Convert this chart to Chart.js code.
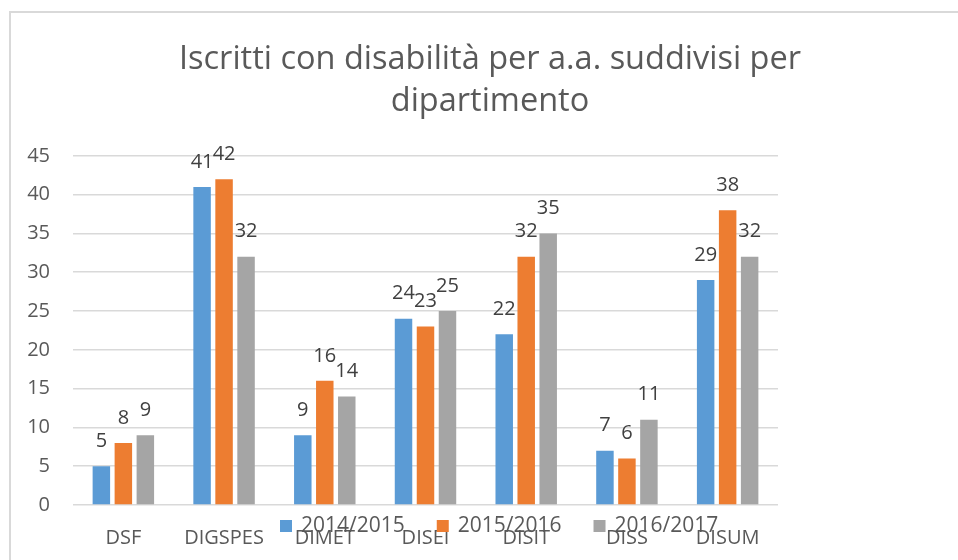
<!DOCTYPE html>
<html>
<head>
<meta charset="utf-8">
<script src="https://cdn.jsdelivr.net/npm/chart.js@4/dist/chart.umd.min.js"></script>
<style>
html,body{margin:0;padding:0;background:#fff;}
#wrap{position:relative;width:958px;height:560px;}
#frame{position:absolute;left:9px;top:11px;width:1000px;height:600px;border-left:2px solid #d9d9d9;border-top:2px solid #d9d9d9;pointer-events:none;}
canvas{position:absolute;left:0;top:0;}
</style>
</head>
<body>
<div id="wrap">
<canvas id="c" width="958" height="560"></canvas>
<div id="frame"></div>
</div>
<script>
const titleLines = ["Iscritti con disabilità per a.a. suddivisi per", "dipartimento"];
const categories = ["DSF", "DIGSPES", "DIMET", "DISEI", "DISIT", "DISS", "DISUM"];
const seriesNames = ["2014/2015", "2015/2016", "2016/2017"];
const values2014 = [5, 41, 9, 24, 22, 7, 29];
const values2015 = [8, 42, 16, 23, 32, 6, 38];
const values2016 = [9, 32, 14, 25, 35, 11, 32];
const seriesColors = ["#5B9BD5", "#ED7D31", "#A5A5A5"];
const yTicks = [0, 5, 10, 15, 20, 25, 30, 35, 40, 45];

const FONT = "'Open Sans', sans-serif";

const dataLabels = {
  id: 'dataLabels',
  afterDatasetsDraw(chart) {
    const ctx = chart.ctx;
    ctx.save();
    ctx.font = "20px " + FONT;
    ctx.fillStyle = "#404040";
    ctx.textAlign = "center";
    ctx.textBaseline = "middle";
    chart.data.datasets.forEach((ds, i) => {
      const meta = chart.getDatasetMeta(i);
      meta.data.forEach((bar, j) => {
        ctx.fillText(String(ds.data[j]), bar.x, bar.y - 25);
      });
    });
    ctx.restore();
  }
};

const overlapLegend = {
  id: 'overlapLegend',
  afterDraw(chart) {
    const ctx = chart.ctx;
    ctx.save();
    ctx.font = "21px " + FONT;
    ctx.textBaseline = "middle";
    ctx.textAlign = "left";
    let x = 280;
    const y = 526;
    chart.data.datasets.forEach((ds) => {
      ctx.fillStyle = ds.backgroundColor;
      ctx.fillRect(x, y - 6, 12, 12);
      ctx.fillStyle = "#595959";
      ctx.fillText(ds.label, x + 21, y);
      x += 21 + ctx.measureText(ds.label).width + 32;
    });
    ctx.restore();
  }
};

new Chart(document.getElementById('c'), {
  type: 'bar',
  data: {
    labels: categories,
    datasets: [
      { label: seriesNames[0], data: values2014, backgroundColor: seriesColors[0] },
      { label: seriesNames[1], data: values2015, backgroundColor: seriesColors[1] },
      { label: seriesNames[2], data: values2016, backgroundColor: seriesColors[2] }
    ]
  },
  options: {
    responsive: false,
    animation: false,
    devicePixelRatio: 1,
    layout: { padding: { left: 22, right: 0, top: 0, bottom: 13 } },
    datasets: { bar: { categoryPercentage: 0.655, barPercentage: 0.795 } },
    plugins: {
      legend: { display: false },
      tooltip: { enabled: false },
      title: {
        display: true,
        text: titleLines,
        color: "#595959",
        font: { family: FONT, size: 32.5, weight: 'normal', lineHeight: 1.29 },
        padding: { top: 39, bottom: 33 }
      }
    },
    scales: {
      x: {
        grid: { display: false, drawTicks: false },
        border: { display: false },
        ticks: { color: "#595959", font: { family: FONT, size: 20 }, padding: 21, maxRotation: 0, autoSkip: false },
        afterFit(s) { s.height = 42; }
      },
      y: {
        min: 0, max: 45,
        afterBuildTicks(s) { s.ticks = yTicks.map(v => ({ value: v })); },
        grid: { color: "#d9d9d9", lineWidth: 1.5, drawTicks: false },
        border: { display: false },
        ticks: { color: "#595959", font: { family: FONT, size: 20 }, padding: 23 },
        afterFit(s) { s.width = 51; }
      },
      yRight: {
        position: 'right',
        min: 0, max: 45,
        grid: { display: false, drawTicks: false },
        border: { display: false },
        ticks: { display: false },
        afterFit(s) { s.width = 180; }
      }
    }
  },
  plugins: [dataLabels, overlapLegend]
});
</script>
</body>
</html>
